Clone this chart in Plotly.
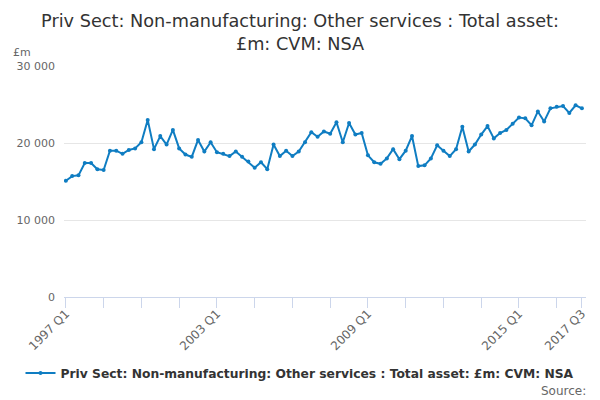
import plotly.graph_objects as go

# ---------------------------------------------------------
# DATA (GBP million)
# ---------------------------------------------------------
years = list(range(1997, 2018))
quarters = [f"{y} Q{q}" for y in years for q in range(1, 5)][:83]  # 1997 Q1 .. 2017 Q3

values = [
    15100, 15700, 15800, 17400, 17400, 16600, 16500, 19000,
    19000, 18600, 19100, 19300, 20100, 23000, 19200, 20900,
    19800, 21700, 19300, 18500, 18200, 20400, 18900, 20100,
    18800, 18600, 18300, 18900, 18200, 17600, 16800, 17500,
    16600, 19800, 18300, 19000, 18300, 18900, 20100, 21400,
    20800, 21500, 21200, 22700, 20100, 22600, 21100, 21300,
    18400, 17500, 17300, 18000, 19200, 17900, 19000, 20900,
    17000, 17100, 18000, 19700, 19000, 18300, 19200, 22100,
    18900, 19800, 21100, 22200, 20600, 21300, 21700, 22500,
    23300, 23200, 22300, 24100, 22800, 24500, 24700, 24800,
    23900, 24900, 24500,
]

series_name = "Priv Sect: Non-manufacturing: Other services : Total asset: £m: CVM: NSA"
y_ticks = [0, 10000, 20000, 30000]
y_tick_labels = ["0", "10 000", "20 000", "30 000"]
labelled_quarters = ["1997 Q1", "2003 Q1", "2009 Q1", "2015 Q1", "2017 Q3"]

# ---------------------------------------------------------
# CHART
# ---------------------------------------------------------
x_idx = list(range(len(quarters)))
tick_idx = list(range(0, len(quarters), 6))
if tick_idx[-1] != len(quarters) - 1:
    tick_idx.append(len(quarters) - 1)
tick_text = [quarters[i] if quarters[i] in labelled_quarters else "" for i in tick_idx]

LINE_COLOR = "#0f7dc2"
AXIS_COLOR = "#ccd6eb"
FONT = "DejaVu Sans"

# the page body has an 8px margin, so the figure is 8px smaller than the window
W, H = 592, 392

fig = go.Figure()
fig.add_trace(go.Scatter(
    x=x_idx, y=values, mode="lines+markers", name=series_name,
    text=quarters, hovertemplate="%{text}: %{y:,.0f}<extra></extra>",
    line=dict(color=LINE_COLOR, width=2),
    marker=dict(color=LINE_COLOR, size=4),
))

fig.update_layout(
    width=W, height=H,
    margin=dict(l=56, r=14, t=58, b=103, autoexpand=False),
    paper_bgcolor="white", plot_bgcolor="white",
    font=dict(family=FONT, color="#666666", size=11),
    title=dict(
        text="Priv Sect: Non-manufacturing: Other services : Total asset:<br>£m: CVM: NSA",
        x=292 / W, xanchor="center", xref="container",
        y=1 - 19 / H, yanchor="middle", yref="container",
        font=dict(family=FONT, size=17.7, color="#333333"),
    ),
    showlegend=True,
    legend=dict(
        orientation="h", xref="container", x=292 / W, xanchor="center",
        yref="container", y=1 - 365 / H, yanchor="middle",
        font=dict(family=FONT, size=12.3, color="#333333", weight="bold"),
        itemwidth=30, tracegroupgap=0,
    ),
    xaxis=dict(
        range=[-0.3, 82.65], automargin=False,
        tickmode="array", tickvals=tick_idx, ticktext=tick_text,
        tickangle=-45, ticks="outside", ticklen=10, tickcolor=AXIS_COLOR,
        showline=True, linecolor=AXIS_COLOR, linewidth=1,
        showgrid=False, zeroline=False, ticklabelstandoff=-6,
        tickfont=dict(family=FONT, size=12, color="#666666"),
    ),
    yaxis=dict(
        range=[0, 30000], automargin=False,
        tickmode="array", tickvals=y_ticks, ticktext=y_tick_labels,
        showgrid=True, gridcolor="#e6e6e6", zeroline=False, showline=False,
        ticks="", ticklabelstandoff=8,
        tickfont=dict(family=FONT, size=11, color="#666666"),
    ),
    annotations=[
        dict(text="£m", xref="paper", yref="paper", x=-0.102, y=1.06,
             xanchor="left", yanchor="middle", showarrow=False,
             font=dict(family=FONT, size=11, color="#666666")),
        dict(text="Source:", xref="paper", yref="paper", x=1.003, y=-0.405,
             xanchor="right", yanchor="middle", showarrow=False,
             font=dict(family=FONT, size=12, color="#666666")),
    ],
)

fig.write_html("out.html")
